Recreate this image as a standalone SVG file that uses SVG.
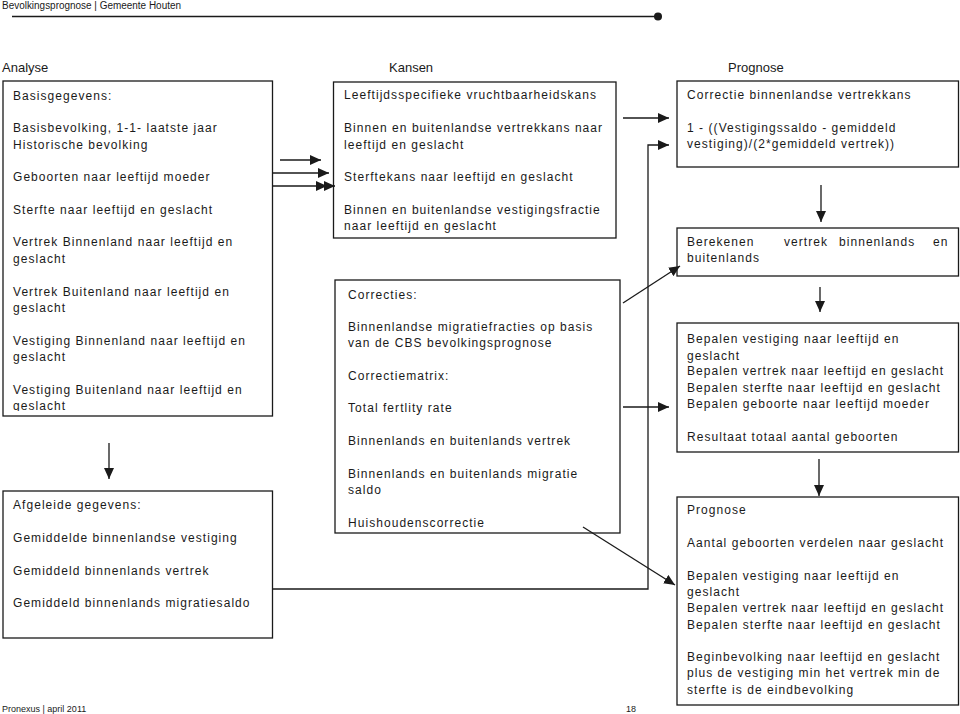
<svg xmlns="http://www.w3.org/2000/svg" width="960" height="714" viewBox="0 0 960 714">
<style>
text{font-family:"Liberation Sans",Arial,sans-serif;fill:#1a1a1a}
.t{font-size:12px;letter-spacing:1.05px}
.h{font-size:13px}
.s{font-size:9px}
.box{fill:#fff;stroke:#1a1a1a;stroke-width:1.3}
.ln{fill:none;stroke:#1a1a1a;stroke-width:1.3}
</style>
<defs>
<marker id="ah" markerUnits="userSpaceOnUse" markerWidth="12" markerHeight="10" refX="11" refY="5" orient="auto">
<path d="M0,0 L11,5 L0,10 Z" fill="#1a1a1a"/>
</marker>
<clipPath id="c1"><rect x="0" y="80" width="280" height="331"/></clipPath>
</defs>
<rect width="960" height="714" fill="#fff"/>
<g id="header">
<text x="2" y="9" font-size="10" textLength="179" lengthAdjust="spacingAndGlyphs">Bevolkingsprognose | Gemeente Houten</text>
<line x1="12" y1="16.5" x2="656" y2="16.5" stroke="#1a1a1a" stroke-width="1.3"/>
<circle cx="658" cy="16.5" r="4" fill="#1a1a1a"/>
<text class="h" x="2" y="72">Analyse</text>
<text class="h" x="389" y="72">Kansen</text>
<text class="h" x="728" y="72">Prognose</text>
</g>
<g id="basisgegevens">
<rect class="box" x="3" y="81" width="269.5" height="335"/>
<g clip-path="url(#c1)">
<text class="t" x="13" y="100">Basisgegevens:</text>
<text class="t" x="13" y="132">Basisbevolking, 1-1- laatste jaar</text>
<text class="t" x="13" y="149">Historische bevolking</text>
<text class="t" x="13" y="181">Geboorten naar leeftijd moeder</text>
<text class="t" x="13" y="214">Sterfte naar leeftijd en geslacht</text>
<text class="t" x="13" y="246">Vertrek Binnenland naar leeftijd en</text>
<text class="t" x="13" y="263">geslacht</text>
<text class="t" x="13" y="296">Vertrek Buitenland naar leeftijd en</text>
<text class="t" x="13" y="312">geslacht</text>
<text class="t" x="13" y="345">Vestiging Binnenland naar leeftijd en</text>
<text class="t" x="13" y="361">geslacht</text>
<text class="t" x="13" y="394">Vestiging Buitenland naar leeftijd en</text>
<text class="t" x="13" y="410">geslacht</text>
</g>
</g>
<g id="afgeleide">
<rect class="box" x="3" y="491" width="269.5" height="147"/>
<text class="t" x="13" y="509">Afgeleide gegevens:</text>
<text class="t" x="13" y="542">Gemiddelde binnenlandse vestiging</text>
<text class="t" x="13" y="575">Gemiddeld binnenlands vertrek</text>
<text class="t" x="13" y="607">Gemiddeld binnenlands migratiesaldo</text>
</g>
<g id="kansen">
<rect class="box" x="333.5" y="82" width="282.5" height="156"/>
<text class="t" x="344" y="99">Leeftijdsspecifieke vruchtbaarheidskans</text>
<text class="t" x="344" y="132">Binnen en buitenlandse vertrekkans naar</text>
<text class="t" x="344" y="149">leeftijd en geslacht</text>
<text class="t" x="344" y="181">Sterftekans naar leeftijd en geslacht</text>
<text class="t" x="344" y="214">Binnen en buitenlandse vestigingsfractie</text>
<text class="t" x="344" y="230">naar leeftijd en geslacht</text>
</g>
<g id="correcties">
<rect class="box" x="335" y="280" width="285" height="253"/>
<text class="t" x="348" y="299">Correcties:</text>
<text class="t" x="348" y="331">Binnenlandse migratiefracties op basis</text>
<text class="t" x="348" y="347">van de CBS bevolkingsprognose</text>
<text class="t" x="348" y="380">Correctiematrix:</text>
<text class="t" x="348" y="412">Total fertlity rate</text>
<text class="t" x="348" y="445">Binnenlands en buitenlands vertrek</text>
<text class="t" x="348" y="478">Binnenlands en buitenlands migratie</text>
<text class="t" x="348" y="494">saldo</text>
<text class="t" x="348" y="527">Huishoudenscorrectie</text>
</g>
<g id="correctie-vertrekkans">
<rect class="box" x="677" y="81" width="281.5" height="86"/>
<text class="t" x="687" y="99">Correctie binnenlandse vertrekkans</text>
<text class="t" x="687" y="132">1 - ((Vestigingssaldo - gemiddeld</text>
<text class="t" x="687" y="148">vestiging)/(2*gemiddeld vertrek))</text>
</g>
<g id="berekenen">
<rect class="box" x="677" y="228" width="281.5" height="48"/>
<text class="t" x="687" y="246">Berekenen</text>
<text class="t" x="784" y="246">vertrek</text>
<text class="t" x="839" y="246">binnenlands</text>
<text class="t" x="933" y="246">en</text>
<text class="t" x="687" y="262">buitenlands</text>
</g>
<g id="bepalen">
<rect class="box" x="677" y="323" width="281.5" height="129"/>
<text class="t" x="687" y="343">Bepalen vestiging naar leeftijd en</text>
<text class="t" x="687" y="360">geslacht</text>
<text class="t" x="687" y="375">Bepalen vertrek naar leeftijd en geslacht</text>
<text class="t" x="687" y="392">Bepalen sterfte naar leeftijd en geslacht</text>
<text class="t" x="687" y="408">Bepalen geboorte naar leeftijd moeder</text>
<text class="t" x="687" y="441">Resultaat totaal aantal geboorten</text>
</g>
<g id="prognose">
<rect class="box" x="677" y="497" width="281.5" height="208"/>
<text class="t" x="687" y="514">Prognose</text>
<text class="t" x="687" y="547">Aantal geboorten verdelen naar geslacht</text>
<text class="t" x="687" y="580">Bepalen vestiging naar leeftijd en</text>
<text class="t" x="687" y="596">geslacht</text>
<text class="t" x="687" y="612">Bepalen vertrek naar leeftijd en geslacht</text>
<text class="t" x="687" y="629">Bepalen sterfte naar leeftijd en geslacht</text>
<text class="t" x="687" y="661">Beginbevolking naar leeftijd en geslacht</text>
<text class="t" x="687" y="677">plus de vestiging min het vertrek min de</text>
<text class="t" x="687" y="694">sterfte is de eindbevolking</text>
</g>
<g id="connectors">
<line class="ln" x1="280" y1="160" x2="321" y2="160" marker-end="url(#ah)"/>
<line class="ln" x1="272.5" y1="173" x2="329" y2="173" marker-end="url(#ah)"/>
<line class="ln" x1="272.5" y1="186" x2="335" y2="186" marker-end="url(#ah)"/>
<path d="M316,181 L327,186 L316,191 Z" fill="#1a1a1a"/>
<line class="ln" x1="109" y1="443" x2="109" y2="479" marker-end="url(#ah)"/>
<line class="ln" x1="623" y1="118" x2="669" y2="118" marker-end="url(#ah)"/>
<path class="ln" d="M272.5,589 H648 V145 H669" marker-end="url(#ah)"/>
<line class="ln" x1="623" y1="407" x2="669" y2="407" marker-end="url(#ah)"/>
<line class="ln" x1="623" y1="303" x2="680" y2="266" marker-end="url(#ah)"/>
<line class="ln" x1="583" y1="527" x2="675" y2="585" marker-end="url(#ah)"/>
<line class="ln" x1="821" y1="185" x2="821" y2="222" marker-end="url(#ah)"/>
<line class="ln" x1="820" y1="287" x2="820" y2="312" marker-end="url(#ah)"/>
<line class="ln" x1="819" y1="459" x2="819" y2="496" marker-end="url(#ah)"/>
</g>
<g id="footer">
<text class="s" x="2" y="712">Pronexus | april 2011</text>
<text class="s" x="626" y="712">18</text>
</g>
</svg>
